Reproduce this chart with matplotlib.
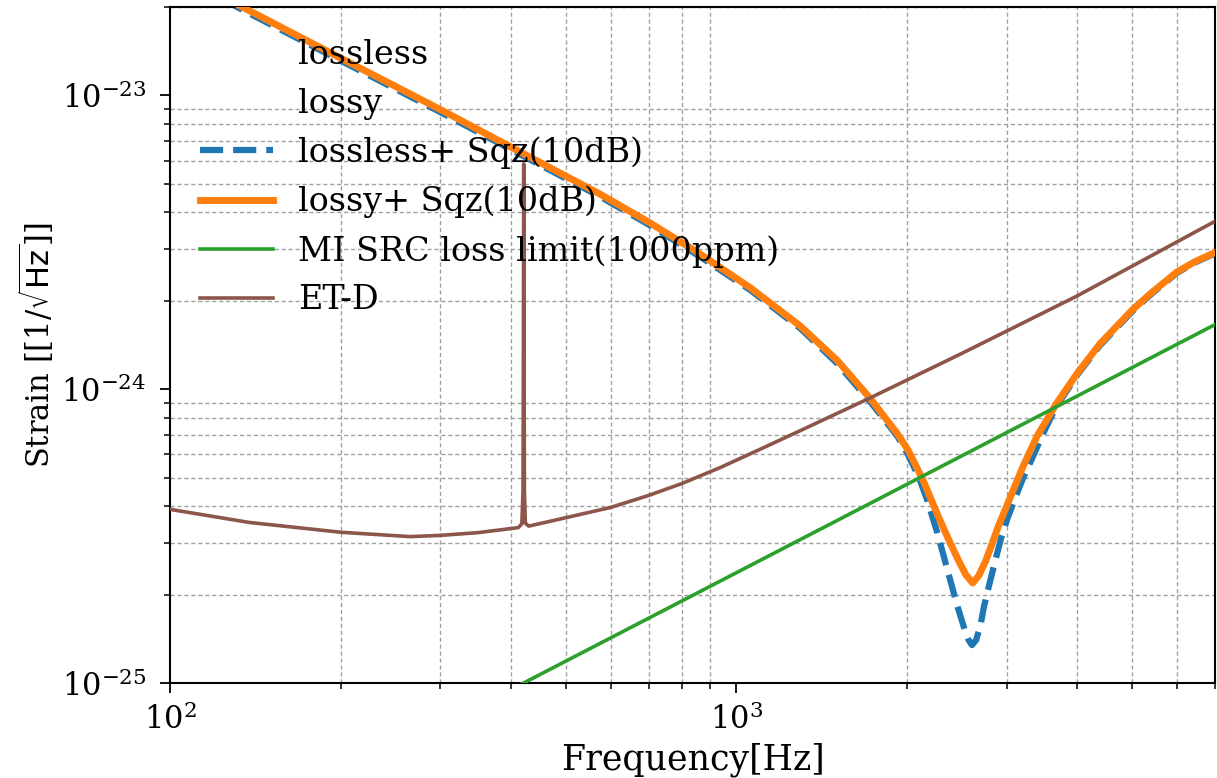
import matplotlib
matplotlib.use('Agg')
import matplotlib.pyplot as plt

plt.rcParams['font.family'] = ['DejaVu Serif']
plt.rcParams['mathtext.fontset'] = 'dejavuserif'
plt.rcParams['font.size'] = 22

# lossy + squeezing (10 dB)
f_lossy_sqz = [120, 136, 203, 305, 427, 575, 706, 864, 1060, 1297, 1509, 1724, 1924,
               2011, 2136, 2268, 2386, 2470, 2540, 2613, 2679, 2754, 2804, 2896,
               3057, 3208, 3395, 3670, 4000, 4386, 5000, 5374, 6000, 6457, 7000]
h_lossy_sqz = [2.239e-23, 1.972e-23, 1.321e-23, 8.81e-24, 6.24e-24, 4.61e-24, 3.67e-24,
               2.88e-24, 2.21e-24, 1.64e-24, 1.25e-24, 9.29e-25, 7.06e-25,
               6.19e-25, 4.90e-25, 3.72e-25, 2.99e-25, 2.60e-25, 2.34e-25, 2.19e-25,
               2.32e-25, 2.60e-25, 2.85e-25, 3.39e-25,
               4.37e-25, 5.47e-25, 6.92e-25, 8.91e-25, 1.135e-24, 1.429e-24, 1.862e-24,
               2.11e-24, 2.51e-24, 2.72e-24, 2.92e-24]

# lossless + squeezing (10 dB)
f_lossless_sqz = [120, 136, 203, 305, 427, 575, 706, 864, 1060, 1297, 1509, 1724, 1924,
                  2011, 2100, 2170, 2264, 2358, 2457, 2540, 2570, 2606, 2650, 2700,
                  2734, 2800, 2859, 2930, 3010, 3100, 3196, 3328, 3500, 3670, 4000,
                  4386, 5000, 5374, 6000, 6457, 7000]
h_lossless_sqz = [2.19e-23, 1.93e-23, 1.295e-23, 8.63e-24, 6.12e-24, 4.52e-24, 3.60e-24,
                  2.82e-24, 2.17e-24, 1.61e-24, 1.22e-24, 9.05e-25, 6.92e-25,
                  5.96e-25, 5.01e-25, 4.22e-25, 3.24e-25, 2.43e-25, 1.82e-25, 1.48e-25,
                  1.40e-25, 1.346e-25, 1.40e-25, 1.585e-25,
                  1.81e-25, 2.19e-25, 2.57e-25, 3.09e-25, 3.63e-25, 4.22e-25, 4.90e-25,
                  5.82e-25, 7.24e-25, 8.71e-25, 1.12e-24,
                  1.41e-24, 1.84e-24, 2.09e-24, 2.49e-24, 2.70e-24, 2.90e-24]

# MI SRC loss limit (1000 ppm)
f_src = [400, 7000]
h_src = [9.5e-26, 1.66e-24]

# ET-D sensitivity
f_etd = [100, 138, 200, 265, 300, 350, 402, 412, 418, 420, 420.7, 421.2, 421.7, 422.4,
         424, 430, 502, 600, 700, 800, 936, 1100, 1297, 1724, 2512, 3981, 7000]
h_etd = [3.90e-25, 3.52e-25, 3.26e-25, 3.15e-25, 3.18e-25, 3.25e-25, 3.36e-25,
         3.38e-25, 3.48e-25, 4.5e-25, 1.5e-24, 5.85e-24, 1.5e-24, 4.5e-25,
         3.5e-25, 3.42e-25, 3.66e-25, 3.96e-25, 4.35e-25, 4.77e-25, 5.41e-25,
         6.24e-25, 7.23e-25, 9.35e-25, 1.33e-24, 2.07e-24, 3.73e-24]

x_major = [100, 1000]
y_major = [1e-25, 1e-24, 1e-23]

fig = plt.figure(figsize=(12.17, 7.78), dpi=100)
ax = fig.add_axes([0.1397, 0.1221, 0.8587, 0.8689])

# no-squeezing curves only appear as legend labels
ax.plot([], [], color='none', label='lossless')
ax.plot([], [], color='none', label='lossy')
ax.plot(f_lossless_sqz, h_lossless_sqz, '--', color='tab:blue', lw=4.5,
        label='lossless+ Sqz(10dB)', zorder=2)
ax.plot(f_lossy_sqz, h_lossy_sqz, color='tab:orange', lw=5,
        label='lossy+ Sqz(10dB)', zorder=3)
ax.plot(f_src, h_src, color='tab:green', lw=2.6, label='MI SRC loss limit(1000ppm)',
        zorder=4)
ax.plot(f_etd, h_etd, color='tab:brown', lw=2.6, label='ET-D', zorder=4)

ax.set_xscale('log')
ax.set_yscale('log')
ax.set_xticks(x_major)
ax.set_yticks(y_major)
ax.set_xlim(100, 7000)
ax.set_ylim(1e-25, 2e-23)

# only the minor grid is shown
ax.grid(which='minor', color='#a0a0a0', lw=1.0, linestyle=(0, (3, 2)))
ax.tick_params(which='major', direction='out', length=7, width=1.3)
ax.tick_params(which='minor', direction='out', length=4, width=1.1)
ax.tick_params(axis='x', pad=8)
ax.tick_params(axis='y', pad=10)
for s in ax.spines.values():
    s.set_linewidth(1.5)

ax.set_xlabel('Frequency[Hz]', fontsize=25, labelpad=5)
ax.set_ylabel('Strain [[1/$\\sqrt{\\mathsf{Hz}}$]]', labelpad=3)

ax.legend(loc='upper left', bbox_to_anchor=(0.0, 0.997), frameon=False, fontsize=24,
          handlelength=2.2, handletextpad=0.75, labelspacing=0.5, borderpad=0.4)

fig.savefig('out.png', dpi=100)
